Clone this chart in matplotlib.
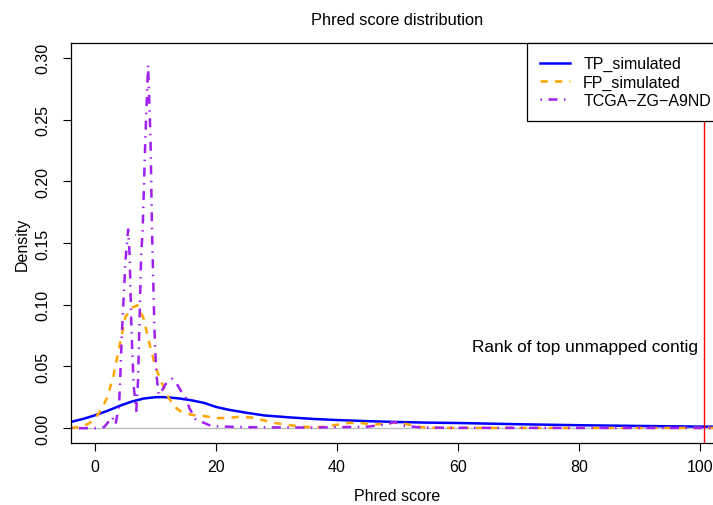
import matplotlib
matplotlib.use("Agg")
import matplotlib.pyplot as plt

plt.rcParams['font.family'] = ['Liberation Sans', 'DejaVu Sans']

# Density estimates of the phred scores
tp_x = [-4, -2, 0, 2, 4, 6, 8, 10, 11, 12, 14, 16, 18, 20, 22, 25, 28, 32, 36, 40,
        45, 50, 55, 60, 70, 80, 90, 100, 106]
tp_y = [0.0051, 0.0075, 0.0105, 0.0140, 0.0180, 0.0215, 0.0240, 0.0251, 0.0252, 0.0250,
        0.0240, 0.0225, 0.0205, 0.0172, 0.0150, 0.0125, 0.0103, 0.0088, 0.0075, 0.0066,
        0.0057, 0.0050, 0.0045, 0.0042, 0.0032, 0.0024, 0.0018, 0.0013, 0.0011]

fp_x = [-4, -2, -1, 0, 1, 2, 3, 4, 5, 6, 7, 8, 9, 10, 11, 12, 13, 14, 15, 16, 18, 20,
        22, 24, 26, 28, 30, 32, 34, 36, 38, 40, 42, 44, 46, 48, 50, 52, 54, 56, 60, 80, 106]
fp_y = [0.0002, 0.0015, 0.0040, 0.0080, 0.0150, 0.0250, 0.0420, 0.0660, 0.0900, 0.0975,
        0.0995, 0.0890, 0.0680, 0.0490, 0.0370, 0.0260, 0.0180, 0.0140, 0.0120, 0.0108,
        0.0098, 0.0082, 0.0082, 0.0094, 0.0085, 0.0062, 0.0040, 0.0025, 0.0014, 0.0006,
        0.0012, 0.0028, 0.0043, 0.0042, 0.0028, 0.0038, 0.0046, 0.0028, 0.0008, 0.0003,
        0.0002, 0.0002, 0.0002]

tcga_x = [-4, 0, 1, 1.5, 2.0, 2.8, 3.35, 3.95, 4.45, 5.0, 5.45, 5.7, 6.0, 6.35, 6.8,
          7.1, 7.3, 7.6, 7.85, 8.3, 8.75, 9.15, 9.4, 9.6, 9.8, 10.1, 10.5, 11.0, 11.8,
          12.7, 13.5, 14.2, 14.9, 15.6, 16.6, 18.9, 20, 25, 30, 35, 40, 45, 48, 49.5,
          51, 54, 60, 80, 106]
tcga_y = [0.0, 0.0, 0.0003, 0.0010, 0.0040, 0.0090, 0.0030, 0.0180, 0.0800, 0.1350,
          0.1610, 0.1400, 0.0800, 0.0350, 0.0140, 0.0400, 0.0800, 0.1400, 0.1600, 0.2350,
          0.2940, 0.2350, 0.1600, 0.1200, 0.0800, 0.0450, 0.0270, 0.0300, 0.0370, 0.0400,
          0.0360, 0.0300, 0.0260, 0.0160, 0.0073, 0.0024, 0.0015, 0.0008, 0.0006, 0.0005,
          0.0008, 0.0012, 0.0030, 0.0050, 0.0020, 0.0005, 0.0003, 0.0002, 0.0002]

series_labels = ["TP_simulated", "FP_simulated", "TCGA\u2212ZG\u2212A9ND"]
rank_top_contig = 100.7
x_ticks = [0, 20, 40, 60, 80, 100]
y_ticks = [0.00, 0.05, 0.10, 0.15, 0.20, 0.25, 0.30]

fig = plt.figure(figsize=(7.13, 5.06), dpi=100)
# plot region runs a little past the right edge of the figure
ax = fig.add_axes([71 / 713, 62 / 506, 653 / 713, 400 / 506])

ax.axhline(0, color='#BEBEBE', lw=1, zorder=1)
ax.plot(tp_x, tp_y, color='blue', lw=1.8, label=series_labels[0])
ax.plot(fp_x, fp_y, color='orange', lw=1.8, dashes=(2.9, 2.9), label=series_labels[1])
ax.plot(tcga_x, tcga_y, color='#A020F0', lw=1.8, dashes=(0.6, 2.6, 3.6, 2.6),
        label=series_labels[2])
ax.axvline(rank_top_contig, color='red', lw=1)
ax.annotate("Rank of top unmapped contig", xy=(rank_top_contig, 0.066),
            xytext=(-4, 0), textcoords='offset points', ha='right', va='center',
            fontsize=12.4)

ax.set_xlim(-4, 104)
ax.set_ylim(-0.012, 0.312)
ax.set_xticks(x_ticks)
ax.set_xticklabels([str(t) for t in x_ticks])
ax.set_yticks(y_ticks)
ax.set_yticklabels(["%.2f" % t for t in y_ticks], rotation=90, va='center')
ax.tick_params(axis='both', direction='out', length=5.5, width=0.8, labelsize=11.5)
ax.tick_params(axis='x', pad=6)
ax.tick_params(axis='y', pad=9)
for s in ax.spines.values():
    s.set_linewidth(0.9)

ax.set_title("Phred score distribution", fontsize=11.8, pad=14)
ax.set_xlabel("Phred score", fontsize=11.5, labelpad=10)
ax.set_ylabel("Density", fontsize=11.5, labelpad=4.5)

leg = ax.legend(loc='upper right', bbox_to_anchor=(1, 1), borderaxespad=0,
                fancybox=False, edgecolor='black', framealpha=1, fontsize=11.5,
                handlelength=1.85, handletextpad=0.85, labelspacing=0.2, borderpad=0.82)
leg.get_frame().set_linewidth(0.9)

fig.savefig("out.png", dpi=100)
